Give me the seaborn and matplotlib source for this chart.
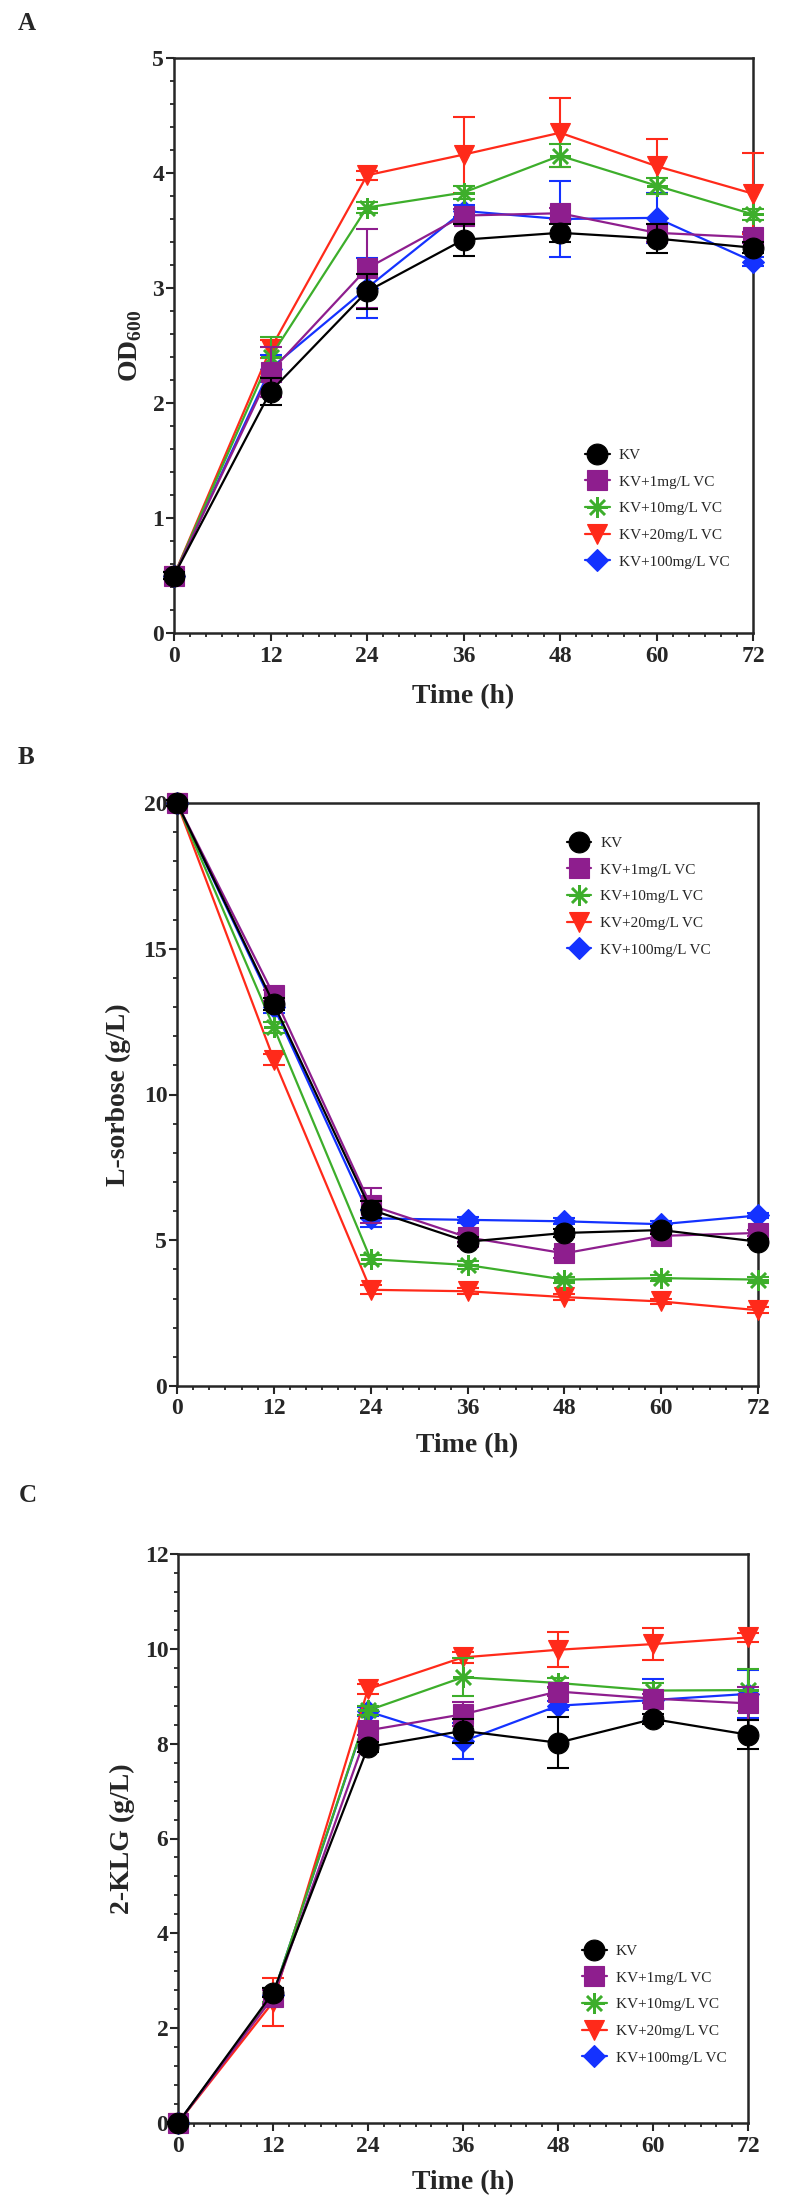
import matplotlib
matplotlib.use("Agg")
import matplotlib.pyplot as plt
import seaborn as sns
import numpy as np
from matplotlib.ticker import MultipleLocator

# time points (h)
times = [0, 12, 24, 36, 48, 60, 72]
groups = ["KV", "KV+1mg/L VC", "KV+10mg/L VC", "KV+20mg/L VC", "KV+100mg/L VC"]

# A: OD600
od_kv = [0.50, 2.10, 2.97, 3.42, 3.48, 3.43, 3.35]
od_kv_sd = [0.03, 0.12, 0.15, 0.14, 0.08, 0.13, 0.05]
od_1 = [0.50, 2.27, 3.17, 3.63, 3.65, 3.48, 3.44]
od_1_sd = [0.03, 0.22, 0.34, 0.06, 0.05, 0.08, 0.05]
od_10 = [0.50, 2.40, 3.70, 3.83, 4.15, 3.89, 3.64]
od_10_sd = [0.03, 0.17, 0.05, 0.06, 0.10, 0.07, 0.05]
od_20 = [0.50, 2.47, 3.98, 4.16, 4.35, 4.06, 3.82]
od_20_sd = [0.03, 0.08, 0.04, 0.33, 0.30, 0.24, 0.35]
od_100 = [0.50, 2.30, 3.00, 3.67, 3.60, 3.61, 3.23]
od_100_sd = [0.03, 0.12, 0.26, 0.05, 0.33, 0.22, 0.04]

# B: L-sorbose (g/L)
sor_kv = [20.0, 13.1, 6.05, 4.95, 5.25, 5.35, 4.95]
sor_kv_sd = [0.1, 0.2, 0.3, 0.15, 0.15, 0.15, 0.1]
sor_1 = [20.0, 13.4, 6.20, 5.10, 4.55, 5.15, 5.25]
sor_1_sd = [0.1, 0.2, 0.6, 0.15, 0.15, 0.15, 0.1]
sor_10 = [20.0, 12.3, 4.35, 4.15, 3.65, 3.70, 3.65]
sor_10_sd = [0.1, 0.2, 0.15, 0.15, 0.1, 0.1, 0.1]
sor_20 = [20.0, 11.2, 3.30, 3.25, 3.05, 2.90, 2.60]
sor_20_sd = [0.1, 0.2, 0.15, 0.1, 0.1, 0.1, 0.1]
sor_100 = [20.0, 13.0, 5.75, 5.70, 5.65, 5.55, 5.85]
sor_100_sd = [0.1, 0.2, 0.3, 0.1, 0.1, 0.1, 0.1]

# C: 2-KLG (g/L)
klg_kv = [0.0, 2.75, 7.93, 8.27, 8.02, 8.52, 8.19]
klg_kv_sd = [0.02, 0.1, 0.1, 0.25, 0.54, 0.1, 0.3]
klg_1 = [0.0, 2.65, 8.28, 8.62, 9.10, 8.95, 8.85]
klg_1_sd = [0.02, 0.15, 0.1, 0.25, 0.1, 0.1, 0.35]
klg_10 = [0.0, 2.70, 8.70, 9.40, 9.28, 9.12, 9.13]
klg_10_sd = [0.02, 0.15, 0.1, 0.40, 0.1, 0.15, 0.45]
klg_20 = [0.0, 2.55, 9.15, 9.82, 9.98, 10.10, 10.24]
klg_20_sd = [0.02, 0.50, 0.1, 0.12, 0.37, 0.33, 0.1]
klg_100 = [0.0, 2.70, 8.68, 8.05, 8.80, 8.92, 9.05]
klg_100_sd = [0.02, 0.15, 0.1, 0.38, 0.1, 0.45, 0.50]

colors = ["#000000", "#8E1E8E", "#3DAE2B", "#FF2A1A", "#1432FF"]
markers = ["o", "s", (8, 2, 0), "v", "D"]
msizes = [15, 14, 15, 15, 11.5]

sns.set_style("ticks")
plt.rcParams["font.family"] = ["Liberation Serif", "DejaVu Serif"]
plt.rcParams["font.weight"] = "bold"
plt.rcParams["axes.labelweight"] = "bold"
plt.rcParams["mathtext.fontset"] = "custom"
plt.rcParams["mathtext.rm"] = "Liberation Serif:bold"
plt.rcParams["mathtext.bf"] = "Liberation Serif:bold"

W, H = 790, 2210
fig = plt.figure(figsize=(W / 100, H / 100), dpi=100)


def px_axes(left, top, right, bottom):
    return fig.add_axes([left / W, 1 - bottom / H, (right - left) / W, (bottom - top) / H])


panels = [
    dict(box=(174, 58, 753, 633), letter="A", lpos=(27, 24),
         series=[(od_kv, od_kv_sd), (od_1, od_1_sd), (od_10, od_10_sd), (od_20, od_20_sd), (od_100, od_100_sd)],
         ylim=(0, 5), major=1, minor=0.2, ylabel=r"OD$_{\mathbf{600}}$",
         ylab_x=-0.052, xlab_y=-0.088, leg=(0.71, 0.321)),
    dict(box=(177, 803, 758, 1386), letter="B", lpos=(26, 757),
         series=[(sor_kv, sor_kv_sd), (sor_1, sor_1_sd), (sor_10, sor_10_sd), (sor_20, sor_20_sd), (sor_100, sor_100_sd)],
         ylim=(0, 20), major=5, minor=1, ylabel="L-sorbose (g/L)",
         ylab_x=-0.080, xlab_y=-0.081, leg=(0.671, 0.943)),
    dict(box=(178, 1554, 748, 2123), letter="C", lpos=(28, 1496),
         series=[(klg_kv, klg_kv_sd), (klg_1, klg_1_sd), (klg_10, klg_10_sd), (klg_20, klg_20_sd), (klg_100, klg_100_sd)],
         ylim=(0, 12), major=2, minor=0.4, ylabel="2-KLG (g/L)",
         ylab_x=-0.076, xlab_y=-0.083, leg=(0.709, 0.314)),
]

for p in panels:
    ax = px_axes(*p["box"])
    for i, (vals, sd) in enumerate(p["series"]):
        z = 10 - 2 * i
        ax.errorbar(times, vals, yerr=sd, fmt="none", ecolor=colors[i],
                    elinewidth=1.5, capsize=8, capthick=1.5, zorder=z, clip_on=False)
        sns.lineplot(x=times, y=vals, ax=ax, color=colors[i], marker=markers[i],
                     markersize=msizes[i], markeredgecolor=colors[i],
                     markeredgewidth=1.8 if i == 2 else 0.8, linewidth=1.6,
                     label=groups[i], zorder=z + 1, clip_on=False)

    ax.set_xlim(0, 72)
    ax.set_ylim(*p["ylim"])
    ax.xaxis.set_major_locator(MultipleLocator(12))
    ax.xaxis.set_minor_locator(MultipleLocator(2))
    ax.yaxis.set_major_locator(MultipleLocator(p["major"]))
    ax.yaxis.set_minor_locator(MultipleLocator(p["minor"]))
    ax.tick_params(which="major", direction="out", length=6, width=1.5, labelsize=17)
    ax.tick_params(which="minor", direction="out", length=3, width=1.3)
    ax.tick_params(axis="y", which="major", pad=1)
    ax.tick_params(axis="x", which="major", pad=3)
    for s in ax.spines.values():
        s.set_linewidth(1.8)
        s.set_visible(True)

    ax.set_xlabel("Time (h)", fontsize=20, fontweight="bold")
    ax.set_ylabel(p["ylabel"], fontsize=20, fontweight="bold")
    ax.yaxis.set_label_coords(p["ylab_x"], 0.5)
    ax.xaxis.set_label_coords(0.5, p["xlab_y"])

    ax.legend(loc="upper left", bbox_to_anchor=p["leg"], frameon=False,
              borderpad=0, borderaxespad=0, handlelength=1.6, handletextpad=0.6,
              labelspacing=0.85, prop={"family": "Liberation Serif", "weight": "normal", "size": 11})

    fig.text(p["lpos"][0] / W, 1 - p["lpos"][1] / H, p["letter"], ha="center", va="center",
             fontsize=18, fontweight="bold")

fig.savefig("out.png", dpi=100)
